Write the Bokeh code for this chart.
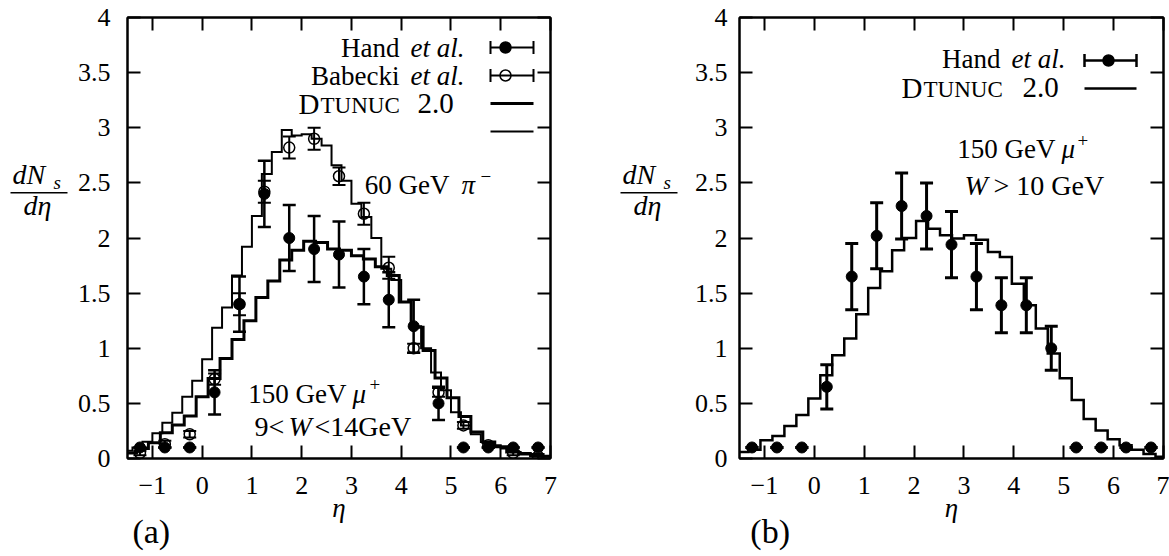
from bokeh.plotting import figure
from bokeh.models import (Range1d, FixedTicker, CustomJSTickFormatter, LinearAxis,
                          Label, Whisker, TeeHead, ColumnDataSource, Arrow)
from bokeh.layouts import row
from bokeh.embed import file_html
from bokeh.resources import INLINE

# ---------------- data ----------------
eta_points = [-1.25, -0.75, -0.25, 0.25, 0.75, 1.25, 1.75, 2.25, 2.75,
              3.25, 3.75, 4.25, 4.75, 5.25, 5.75, 6.25, 6.75]

# (a) 150 GeV mu+, 9 < W < 14 GeV (Hand et al.) and 60 GeV pi- (Babecki et al.)
hand_a = [0.10, 0.10, 0.10, 0.60, 1.40, 2.40, 2.00, 1.90, 1.85,
          1.65, 1.44, 1.20, 0.50, 0.10, 0.10, 0.10, 0.10]
hand_a_err = [0, 0, 0, 0.20, 0.25, 0.30, 0.30, 0.30, 0.30,
              0.25, 0.25, 0.24, 0.15, 0, 0, 0, 0]
babecki_a = [0.05, 0.13, 0.22, 0.72, 1.40, 2.42, 2.82, 2.90, 2.56,
             2.22, 1.73, 1.00, 0.60, 0.30, 0.12, 0.05, 0.02]
babecki_a_err = [0.02, 0.03, 0.03, 0.05, 0.10, 0.10, 0.10, 0.10, 0.08,
                 0.10, 0.10, 0.04, 0.04, 0.03, 0.02, 0.02, 0.02]

# (b) 150 GeV mu+, W > 10 GeV (Hand et al.)
hand_b = [0.10, 0.10, 0.10, 0.65, 1.65, 2.02, 2.29, 2.20, 1.94,
          1.65, 1.39, 1.39, 1.00, 0.10, 0.10, 0.10, 0.10]
hand_b_err = [0, 0, 0, 0.20, 0.30, 0.30, 0.30, 0.30, 0.30,
              0.30, 0.25, 0.25, 0.20, 0, 0, 0, 0]

# DTUNUC 2.0 histograms
mu_edges = [round(-1.56 + 0.24 * k, 2) for k in range(37)]
pi_edges = [round(-1.60 + 0.20 * k, 2) for k in range(44)]

dtunuc_mu_a = [0.05, 0.09, 0.143, 0.234, 0.304, 0.385, 0.56, 0.726, 0.907, 1.08,
               1.25, 1.46, 1.61, 1.80, 1.89, 1.97, 1.96, 1.90, 1.89, 1.84,
               1.81, 1.74, 1.66, 1.42, 1.19, 0.98, 0.73, 0.55, 0.38, 0.24,
               0.15, 0.107, 0.06, 0.04, 0.025, 0.02]
dtunuc_pi_a = [0.07, 0.10, 0.152, 0.228, 0.325, 0.415, 0.56, 0.705, 0.90, 1.185,
               1.37, 1.66, 1.92, 2.20, 2.58, 2.78, 2.98, 2.93, 2.94, 2.90,
               2.84, 2.66, 2.52, 2.31, 2.19, 2.00, 1.72, 1.62, 1.42, 1.20,
               1.00, 0.78, 0.62, 0.42, 0.30, 0.22, 0.15, 0.12, 0.09, 0.06,
               0.05, 0.03, 0.02]
dtunuc_mu_b = [0.06, 0.08, 0.165, 0.205, 0.294, 0.394, 0.545, 0.756, 0.937, 1.088,
               1.309, 1.547, 1.698, 1.889, 2.000, 2.154, 2.085, 2.024, 1.995, 2.024,
               1.985, 1.873, 1.828, 1.586, 1.390, 1.180, 0.953, 0.727, 0.530, 0.358,
               0.253, 0.174, 0.120, 0.080, 0.040, 0.015]

x_ticks = [-1, 0, 1, 2, 3, 4, 5, 6, 7]
y_ticks = [0, 0.5, 1, 1.5, 2, 2.5, 3, 3.5, 4]

# ---------------- layout constants ----------------
FONT = "Liberation Serif"
TXT = 27
TICK_TXT = "26px"
H = 556
TOP = 17
BOTTOM_Y = 458          # page y of the frame bottom
FRAME_H = BOTTOM_Y - TOP
MID = 0.3375            # distance from baseline to the middle of the text box, in em
THIN = "\u2009"         # thin space, used to indent the panel tags

fmt = CustomJSTickFormatter(code="return tick < 0 ? '\\u2212' + Math.abs(tick) : String(tick);")


def make_panel(width, border_left, border_right, label_standoff, tag):
    p = figure(width=width, height=H, x_range=Range1d(-1.5, 7), y_range=Range1d(0, 4),
               output_backend="svg", toolbar_location=None,
               min_border_left=border_left, min_border_right=border_right,
               min_border_top=TOP, min_border_bottom=H - BOTTOM_Y)
    p.grid.visible = False
    p.outline_line_color = "black"
    p.outline_line_width = 2

    p.add_layout(LinearAxis(), "above")
    p.add_layout(LinearAxis(), "right")

    for ax in p.xaxis:
        ax.ticker = FixedTicker(ticks=x_ticks)
    for ax in p.yaxis:
        ax.ticker = FixedTicker(ticks=y_ticks)
    for ax in p.xaxis + p.yaxis:
        ax.formatter = fmt
        ax.axis_line_color = "black"
        ax.axis_line_width = 2
        ax.major_tick_in = 13
        ax.major_tick_out = 0
        ax.major_tick_line_width = 2
        ax.major_tick_line_color = "black"
        ax.minor_tick_line_color = None
        ax.major_label_text_font = FONT
        ax.major_label_text_font_size = TICK_TXT
        ax.major_label_text_color = "black"
    # mirror axes carry ticks only
    for ax in (p.above[0], p.right[0]):
        ax.major_label_text_font_size = "0px"
        ax.major_label_text_color = None
        ax.major_label_standoff = 0

    xa = p.below[0]
    xa.major_label_standoff = 18
    xa.axis_label = "\u03b7"
    xa.axis_label_text_font = FONT
    xa.axis_label_text_font_size = "27px"
    xa.axis_label_text_font_style = "italic"
    xa.axis_label_text_color = "black"
    xa.axis_label_standoff = -4
    p.left[0].major_label_standoff = label_standoff

    # panel tag below the eta title, near the left of the frame
    tag_axis = LinearAxis(axis_line_color=None, major_tick_line_color=None,
                          minor_tick_line_color=None, major_tick_in=0, major_tick_out=0,
                          minor_tick_in=0, minor_tick_out=0,
                          major_label_text_font_size="0px", major_label_text_color=None,
                          major_label_standoff=0,
                          axis_label=tag, axis_label_text_font=FONT,
                          axis_label_text_font_size="34px", axis_label_text_color="black",
                          axis_label_text_font_style="normal", axis_label_standoff=-13,
                          axis_label_align="start")
    p.add_layout(tag_axis, "below")
    return p


def text_strip(x0, width):
    """Plain figure whose data coordinates are page pixels (y downwards)."""
    f = figure(width=width, height=H, x_range=Range1d(x0, x0 + width),
               y_range=Range1d(H, 0), output_backend="svg",
               toolbar_location=None, x_axis_location=None, y_axis_location=None,
               min_border=0)
    f.grid.visible = False
    f.outline_line_color = None
    return f


def _label(x, y, text, size, align, italic, **units):
    return Label(x=x, y=y, text=text, text_font=FONT, text_font_size=f"{size}px",
                 text_align=align, text_baseline="middle", text_color="black",
                 text_font_style="italic" if italic else "normal", **units)


def put(f, px, baseline, text, size=TXT, align="left", italic=False):
    f.add_layout(_label(px, baseline - MID * size, text, size, align, italic))


def labeler(p, fig_x0, frame_left):
    def lab(px, baseline, text, size=TXT, align="left", italic=False):
        p.add_layout(_label(px - fig_x0 - frame_left, BOTTOM_Y - (baseline - MID * size),
                            text, size, align, italic, x_units="screen", y_units="screen"))
    return lab


def key_line(p, fig_x0, frame_left, x0, x1, py, width, caps=False):
    if caps:
        kw = dict(start=TeeHead(size=13, line_width=width), end=TeeHead(size=13, line_width=width))
    else:
        kw = dict(start=None, end=None)
    p.add_layout(Arrow(x_start=x0 - fig_x0 - frame_left, x_end=x1 - fig_x0 - frame_left,
                       y_start=BOTTOM_Y - py, y_end=BOTTOM_Y - py,
                       start_units="screen", end_units="screen",
                       line_width=width, line_color="black", **kw))


def errorbars(p, x, y, err, width):
    src = ColumnDataSource(dict(x=x, lo=[a - e for a, e in zip(y, err)],
                                hi=[a + e for a, e in zip(y, err)]))
    p.add_layout(Whisker(source=src, base="x", lower="lo", upper="hi", dimension="height",
                         line_width=width, line_color="black",
                         lower_head=TeeHead(size=13, line_width=width, line_color="black"),
                         upper_head=TeeHead(size=13, line_width=width, line_color="black")))


def hist(p, edges, vals, width):
    p.step(x=edges, y=list(vals) + [vals[-1]], mode="after",
           line_width=width, line_color="black", line_join="miter")


def key_point(p, fig_x0, frame_left, frame_w, px, py, filled):
    x = -1.5 + (px - fig_x0 - frame_left) / frame_w * 8.5
    y = (BOTTOM_Y - py) / FRAME_H * 4
    p.scatter([x], [y], marker="circle", size=11, line_color="black", line_width=1.5,
              fill_color="black" if filled else "white")


def fraction(f, x0):
    put(f, x0 + 2, 208, "dN", size=28, italic=True)
    put(f, x0 + 43, 214, "s", size=19, italic=True)
    f.segment(x0=[x0], y0=[221], x1=[x0 + 57], y1=[221], line_width=1.6, line_color="black")
    put(f, x0 + 13, 247, "d\u03b7", size=28, italic=True)


# ---------------- y-axis title (a) ----------------
fa = text_strip(0, 70)
fraction(fa, 10)

# ---------------- panel (a) ----------------
FA_X0, FA_L, FA_W = 70, 57, 423
pa = make_panel(514, FA_L, 34, 17, THIN * 7 + "(a)")
hist(pa, pi_edges, dtunuc_pi_a, 2)
hist(pa, mu_edges, dtunuc_mu_a, 3)
errorbars(pa, eta_points, babecki_a, babecki_a_err, 2)
errorbars(pa, eta_points, hand_a, hand_a_err, 2.5)
pa.scatter(eta_points, babecki_a, marker="circle", size=11, fill_color=None,
           line_color="black", line_width=1.5)
pa.scatter(eta_points, hand_a, marker="circle", size=11, fill_color="black", line_color="black")

la = labeler(pa, FA_X0, FA_L)

la(399, 57, "Hand", align="right")
la(410, 57, "et al.", italic=True)
key_line(pa, FA_X0, FA_L, 490, 533, 47, 2, caps=True)
key_point(pa, FA_X0, FA_L, FA_W, 505, 47, True)
la(399, 85, "Babecki", align="right")
la(410, 85, "et al.", italic=True)
key_line(pa, FA_X0, FA_L, 490, 533, 75, 2, caps=True)
key_point(pa, FA_X0, FA_L, FA_W, 505, 75, False)
la(298, 113, "D", size=29)
la(320, 113, "TUNUC", size=23)
la(417, 113, "2.0", size=29)
key_line(pa, FA_X0, FA_L, 490, 533, 103, 3)
key_line(pa, FA_X0, FA_L, 490, 533, 131, 2)

la(449, 194, "60 GeV", align="right")
la(461, 194, "\u03c0", italic=True)
la(480, 182, "\u2212", size=19)
la(346, 403, "150 GeV", align="right")
la(352, 403, "\u03bc", italic=True)
la(369, 390, "+", size=19)
la(254, 435, "9<", size=28)
la(288, 435, "W", size=28, italic=True)
la(314, 435, "<14GeV", size=28)

# ---------------- y-axis title (b) ----------------
fb = text_strip(584, 106)
fraction(fb, 620)

# ---------------- panel (b) ----------------
FB_X0, FB_L, FB_W = 690, 49, 424
pb = make_panel(479, FB_L, 6, 12, THIN * 9 + "(b)")
hist(pb, mu_edges, dtunuc_mu_b, 2.5)
errorbars(pb, eta_points, hand_b, hand_b_err, 3)
pb.scatter(eta_points, hand_b, marker="circle", size=11, fill_color="black", line_color="black")

lb = labeler(pb, FB_X0, FB_L)

lb(1000, 68, "Hand", align="right")
lb(1011, 68, "et al.", italic=True)
key_line(pb, FB_X0, FB_L, 1084, 1136, 60, 2.5, caps=True)
key_point(pb, FB_X0, FB_L, FB_W, 1108, 60, True)
lb(901, 97, "D", size=29)
lb(923, 97, "TUNUC", size=23)
lb(1022, 97, "2.0", size=29)
key_line(pb, FB_X0, FB_L, 1084, 1136, 88, 2.5)

lb(1055, 158, "150 GeV", align="right")
lb(1061, 158, "\u03bc", italic=True)
lb(1077, 146, "+", size=19)
lb(964, 194, "W", size=28, italic=True)
lb(993, 194, "> 10 GeV", size=28)

layout = row(fa, pa, fb, pb)
open("out.html", "w").write(file_html(layout, INLINE))
